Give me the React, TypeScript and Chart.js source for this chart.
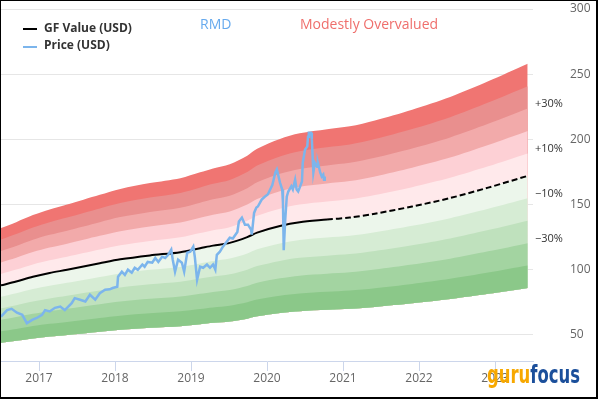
import React, { useEffect, useRef } from "react";
import { Chart, registerables } from "chart.js";

Chart.register(...registerables);

// ---------- data ----------
const PRICE_DATES = [
  2016.5, 2016.58, 2016.64, 2016.71, 2016.78, 2016.84, 2016.91, 2016.97,
  2017.04, 2017.08, 2017.14, 2017.21, 2017.28, 2017.34, 2017.43, 2017.47,
  2017.54, 2017.61, 2017.67, 2017.74, 2017.8, 2017.87, 2017.93, 2017.97,
  2018.03, 2018.04, 2018.09, 2018.13, 2018.17, 2018.22, 2018.26, 2018.3,
  2018.36, 2018.39, 2018.43, 2018.49, 2018.53, 2018.57, 2018.62, 2018.66,
  2018.7, 2018.74, 2018.76, 2018.79, 2018.83, 2018.88, 2018.91, 2018.95,
  2018.99, 2019.03, 2019.05, 2019.08, 2019.12, 2019.16, 2019.21, 2019.25,
  2019.29, 2019.32, 2019.34, 2019.38, 2019.42, 2019.47, 2019.51, 2019.55,
  2019.61, 2019.63, 2019.67, 2019.71, 2019.75, 2019.79, 2019.8, 2019.83,
  2019.86, 2019.88, 2019.93, 2019.97, 2020.01, 2020.07, 2020.11, 2020.13,
  2020.14, 2020.17, 2020.2, 2020.21, 2020.22, 2020.24, 2020.26, 2020.28,
  2020.32, 2020.34, 2020.37, 2020.39, 2020.41, 2020.43, 2020.46, 2020.47,
  2020.5, 2020.53, 2020.54, 2020.55, 2020.58, 2020.59, 2020.61, 2020.63,
  2020.66, 2020.67, 2020.7, 2020.72, 2020.74, 2020.75, 2020.76,
];
const PRICE_VALUES = [
  64, 69, 70, 67, 65.4, 59, 61.5, 63,
  65.4, 69, 68, 70.8, 71.8, 69, 74.4, 78.2,
  77, 75.6, 80.8, 77, 82, 84.6, 85, 86,
  87, 94.6, 98.5, 96, 100, 97.7, 101.5, 100,
  104, 102.3, 106, 105.4, 109, 106, 110, 109,
  111.5, 115.4, 107.7, 98.5, 107.7, 105.4, 98.5, 113,
  113.8, 117.7, 110, 92.3, 102.3, 101.5, 104, 101.5,
  104, 100, 111.5, 113.8, 117.7, 121.5, 124.6, 124,
  129, 137, 140, 134.6, 134.6, 130.8, 127, 143.6,
  147.7, 148.5, 153.8, 156, 157.7, 165, 174.6, 177,
  174.6, 167, 161.5, 151.5, 115, 138.5, 156, 160,
  164, 161.5, 169, 161.5, 160, 163, 167.7, 182,
  192, 194.6, 202, 205, 205, 200, 174.6, 182,
  179, 182, 174.6, 171.5, 173, 169, 171.5,
];

const GF_DATES = [
  2016.5, 2016.7, 2016.92, 2017.14, 2017.37, 2017.8, 2018.07, 2018.46,
  2018.86, 2019.12, 2019.29, 2019.51, 2019.74, 2019.87, 2020.17, 2020.43,
  2020.79, 2021.09, 2021.42, 2021.91, 2022.41, 2022.91, 2023.43,
];
const GF_VALUES = [
  88, 91, 94.6, 97.5, 100, 105, 108, 111,
  113.5, 116.5, 118.5, 120.6, 125, 128.5, 133.5, 136.4,
  138.5, 140, 143, 148.5, 155, 163, 172,
];
const GF_PROJECTION_START = 2020.79;

const BAND_MULTIPLIERS = [0.5, 0.6, 0.7, 0.8, 0.9, 1.0, 1.1, 1.2, 1.3, 1.4, 1.5];
const BAND_COLORS = [
  "rgb(139,200,137)",
  "rgb(163,212,161)",
  "rgb(191,225,189)",
  "rgb(214,236,212)",
  "rgb(236,246,235)",
  "rgb(255,233,235)",
  "rgb(253,208,213)",
  "rgb(242,170,170)",
  "rgb(233,143,142)",
  "rgb(240,117,114)",
];
const ZONE_LABEL_MULTIPLIERS = [1.3, 1.1, 0.9, 0.7];
const ZONE_LABELS = ["+30%", "+10%", "\u221210%", "\u221230%"];

const X_TICKS = [2017, 2018, 2019, 2020, 2021, 2022, 2023];
const Y_TICKS = [50, 100, 150, 200, 250, 300];

const TICKER = "RMD";
const VALUATION = "Modestly Overvalued";
const LEGEND_LABELS = ["GF Value (USD)", "Price (USD)"];

const PRICE_COLOR = "#7cb5ec";
const FONT = '"Open Sans", "Noto Sans", sans-serif';

const overlayPlugin = {
  id: "overlay",
  afterDraw(chart: any) {
    const ctx: CanvasRenderingContext2D = chart.ctx;
    const area = chart.chartArea;
    const ys = chart.scales.y;
    ctx.save();

    // legend
    ctx.lineWidth = 2;
    ctx.strokeStyle = "#000";
    ctx.beginPath();
    ctx.moveTo(23, 29);
    ctx.lineTo(37, 29);
    ctx.stroke();
    ctx.strokeStyle = PRICE_COLOR;
    ctx.beginPath();
    ctx.moveTo(23, 47);
    ctx.lineTo(37, 47);
    ctx.stroke();
    ctx.fillStyle = "#333333";
    ctx.font = `bold 12px ${FONT}`;
    ctx.textBaseline = "middle";
    ctx.textAlign = "left";
    ctx.fillText(LEGEND_LABELS[0], 44, 29);
    ctx.fillText(LEGEND_LABELS[1], 44, 46);

    // titles
    ctx.font = `14px ${FONT}`;
    ctx.fillStyle = "#66aaee";
    ctx.fillText(TICKER, 200, 25);
    ctx.fillStyle = "#ef6f6c";
    ctx.fillText(VALUATION, 300, 25);

    // zone labels
    const lastGF = GF_VALUES[GF_VALUES.length - 1];
    ctx.font = `11px ${FONT}`;
    ctx.fillStyle = "#333333";
    ZONE_LABEL_MULTIPLIERS.forEach((m, i) => {
      const py = ys.getPixelForValue(lastGF * m) - 4.5;
      ctx.fillText(ZONE_LABELS[i], area.right + 2, py);
    });

    // logo
    ctx.font = 'bold 25px "Liberation Sans Narrow", "DejaVu Sans Condensed", "Roboto", sans-serif';
    ctx.textBaseline = "alphabetic";
    const w1 = ctx.measureText("guru").width;
    const w2 = ctx.measureText("focus").width;
    const sx = 93 / (w1 + w2);
    ctx.translate(487, 383);
    ctx.scale(sx, 1);
    ctx.fillStyle = "#f7a800";
    ctx.fillText("guru", 0, 0);
    ctx.fillStyle = "#1b4f9b";
    ctx.fillText("focus", w1, 0);
    ctx.restore();
  },
};

export default function App() {
  const ref = useRef<HTMLCanvasElement>(null);

  useEffect(() => {
    const price = PRICE_DATES.map((x, i) => ({ x, y: PRICE_VALUES[i] }));
    const gfAll = GF_DATES.map((x, i) => ({ x, y: GF_VALUES[i] }));
    const gfSolid = gfAll.filter((p) => p.x <= GF_PROJECTION_START);
    const gfDashed = gfAll.filter((p) => p.x >= GF_PROJECTION_START);
    const BAND_BASE_INDEX = 3;

    const bands = BAND_MULTIPLIERS.map((m, i) => ({
      label: "band" + m,
      data: gfAll.map((p) => ({ x: p.x, y: p.y * m })),
      fill: i === 0 ? false : BAND_BASE_INDEX,
      backgroundColor: i === 0 ? "transparent" : BAND_COLORS[i - 1],
      borderColor: "transparent",
      borderWidth: 0,
      pointRadius: 0,
      tension: 0.3,
    }));

    const chart = new Chart(ref.current!, {
      type: "line",
      data: {
        datasets: [
          {
            label: LEGEND_LABELS[1],
            data: price,
            borderColor: PRICE_COLOR,
            borderWidth: 2.5,
            pointRadius: 0,
            fill: false,
            tension: 0,
          },
          {
            label: LEGEND_LABELS[0],
            data: gfSolid,
            borderColor: "#000",
            borderWidth: 2,
            pointRadius: 0,
            fill: false,
            tension: 0.3,
          },
          {
            label: "GF projection",
            data: gfDashed,
            borderColor: "#000",
            borderWidth: 2,
            borderDash: [6, 3],
            pointRadius: 0,
            fill: false,
            tension: 0.3,
          },
          ...bands,
        ] as any,
      },
      options: {
        animation: false,
        responsive: false,
        devicePixelRatio: 1,
        layout: { padding: { top: 9, left: 1, right: 0, bottom: 0 } },
        plugins: {
          legend: { display: false },
          tooltip: { enabled: false },
        },
        scales: {
          x: {
            type: "linear",
            min: 2016.5,
            max: 2023.5,
            afterBuildTicks: (s: any) => {
              s.ticks = X_TICKS.map((v) => ({ value: v }));
            },
            afterFit: (s: any) => {
              s.height = 39;
              s.paddingLeft = 0;
              s.paddingRight = 0;
            },
            grid: {
              drawOnChartArea: false,
              drawTicks: true,
              tickLength: 10,
              color: "#ccd6eb",
            },
            border: { color: "#ccd6eb" },
            ticks: {
              autoSkip: false,
              maxRotation: 0,
              padding: 0,
              color: "#666666",
              font: { family: FONT, size: 12 },
              callback: (v: any) => String(v),
            },
          },
          y: {
            type: "linear",
            position: "right",
            min: 30,
            max: 300,
            afterBuildTicks: (s: any) => {
              s.ticks = Y_TICKS.map((v) => ({ value: v }));
            },
            afterFit: (s: any) => {
              s.width = 67;
              s.paddingTop = 0;
              s.paddingBottom = 0;
            },
            grid: { color: "#e6e6e6", drawTicks: false },
            border: { display: false },
            ticks: {
              padding: 37,
              color: "#666666",
              font: { family: FONT, size: 12 },
              callback: (v: any) => String(v),
            },
          },
        },
      } as any,
      plugins: [overlayPlugin],
    });
    return () => chart.destroy();
  }, []);

  return (
    <div
      style={{
        position: "fixed",
        left: 0,
        top: 0,
        width: 600,
        height: 420,
        background: "#fff",
      }}
    >
      <canvas
        ref={ref}
        width={600}
        height={400}
        style={{ position: "absolute", left: 0, top: 0, width: 600, height: 400 }}
      />
      <div
        style={{
          position: "absolute",
          left: 0,
          top: 0,
          width: 598,
          height: 399,
          boxSizing: "border-box",
          borderStyle: "solid",
          borderColor: "#000",
          borderWidth: "1px 2px 2px 1px",
          pointerEvents: "none",
        }}
      />
    </div>
  );
}
